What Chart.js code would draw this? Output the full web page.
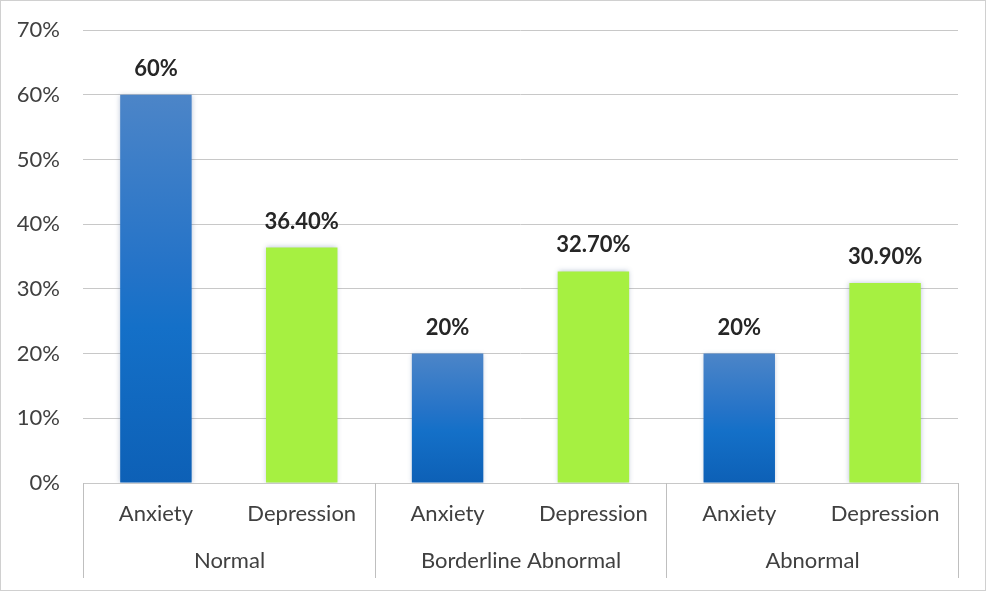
<!DOCTYPE html>
<html>
<head>
<meta charset="utf-8">
<script src="https://cdn.jsdelivr.net/npm/chart.js@4"></script>
<style>
html,body{margin:0;padding:0;background:#fff;}
#wrap{width:986px;height:592px;}
</style>
</head>
<body>
<div id="wrap"><canvas id="c" width="986" height="592"></canvas></div>
<script>
// ---- data ----
const categories = ['Anxiety', 'Depression', 'Anxiety', 'Depression', 'Anxiety', 'Depression'];
const groups = ['Normal', 'Borderline Abnormal', 'Abnormal'];
const values = [60, 36.4, 20, 32.7, 20, 30.9];
const valueLabels = ['60%', '36.40%', '20%', '32.70%', '20%', '30.90%'];
const yTicks = [0, 10, 20, 30, 40, 50, 60, 70];

const FONT = 'Lato, "Open Sans", sans-serif';
const GREEN = '#a6f041';

function blueGradient(ctx) {
  const chart = ctx.chart;
  const area = chart.chartArea;
  if (!area) return '#1a6fc6';
  const y = chart.scales.y;
  const v = ctx.raw;
  const top = y.getPixelForValue(v);
  const bot = y.getPixelForValue(0);
  const g = chart.ctx.createLinearGradient(0, top, 0, bot);
  g.addColorStop(0, '#4c85c8');
  g.addColorStop(0.45, '#2473c8');
  g.addColorStop(0.6, '#1470c8');
  g.addColorStop(1, '#0d60b6');
  return g;
}

const decor = {
  id: 'decor',
  beforeDatasetsDraw(chart) {
    const c = chart.ctx;
    c.save();
    c.shadowColor = 'rgba(60,90,140,0.35)';
    c.shadowBlur = 5;
  },
  afterDatasetsDraw(chart) {
    const c = chart.ctx;
    c.restore();
    const meta = chart.getDatasetMeta(0);
    c.save();
    c.font = 'bold 22px ' + FONT;
    c.fillStyle = '#262626';
    c.textAlign = 'center';
    c.textBaseline = 'middle';
    meta.data.forEach((bar, i) => {
      c.fillText(valueLabels[i], bar.x, bar.y - 26);
    });
    c.restore();
  },
  afterDraw(chart) {
    const c = chart.ctx;
    const x = chart.scales.x;
    const base = chart.scales.y.getPixelForValue(0);
    const half = (x.getPixelForValue(1) - x.getPixelForValue(0)) / 2;
    c.save();
    c.strokeStyle = '#bfbfbf';
    c.lineWidth = 1;
    const seps = [];
    for (let g = 0; g <= groups.length; g++) {
      const idx = g * 2;
      const px = Math.round(x.getPixelForValue(Math.min(idx, categories.length - 1)) + (idx >= categories.length ? half : -half)) + 0.5;
      seps.push(px);
      c.beginPath();
      c.moveTo(px, base);
      c.lineTo(px, 578);
      c.stroke();
    }
    c.font = '22px ' + FONT;
    c.fillStyle = '#404040';
    c.textAlign = 'center';
    c.textBaseline = 'middle';
    groups.forEach((g, i) => {
      c.fillText(g, (seps[i] + seps[i + 1]) / 2, 561);
    });
    c.strokeStyle = '#d0d0d0';
    c.strokeRect(0.5, 0.5, 985, 590);
    c.restore();
  }
};

new Chart(document.getElementById('c'), {
  type: 'bar',
  data: {
    labels: categories,
    datasets: [{
      data: values,
      backgroundColor: (ctx) => (ctx.dataIndex % 2 === 0 ? blueGradient(ctx) : GREEN),
      borderWidth: 0,
      barPercentage: 0.98,
      categoryPercentage: 0.5
    }]
  },
  options: {
    responsive: false,
    animation: false,
    events: [],
    layout: { padding: { top: 30, right: 28, left: 0, bottom: 0 } },
    plugins: { legend: { display: false }, tooltip: { enabled: false } },
    scales: {
      y: {
        min: 0, max: 70,
        afterFit(s) { s.width = 83; s.paddingTop = 0; s.paddingBottom = 0; },
        afterBuildTicks(s) { s.ticks = yTicks.map(v => ({ value: v })); },
        border: { display: false },
        grid: { color: '#c8c8c8', drawTicks: false, lineWidth: 1 },
        ticks: {
          padding: 23,
          color: '#404040',
          font: { family: FONT, size: 22, lineHeight: 0.5 },
          callback: (v) => v + '%'
        }
      },
      x: {
        afterFit(s) { s.height = 109; s.paddingLeft = 0; s.paddingRight = 0; },
        border: { display: true, color: '#c8c8c8' },
        grid: { display: false, drawTicks: false },
        ticks: {
          padding: 18,
          color: '#404040',
          font: { family: FONT, size: 22 },
          maxRotation: 0
        }
      }
    }
  },
  plugins: [decor]
});
</script>
</body>
</html>
